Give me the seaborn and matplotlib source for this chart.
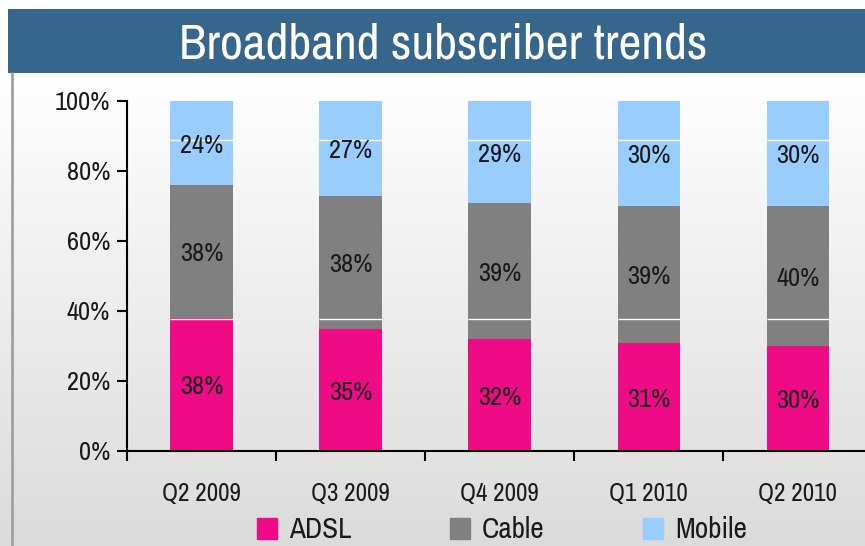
import matplotlib
matplotlib.use('Agg')
import matplotlib.pyplot as plt
import matplotlib.patches as mpatches
from matplotlib.lines import Line2D
import seaborn as sns
import numpy as np
import pandas as pd

# ---- data ----
quarters = ['Q2 2009', 'Q3 2009', 'Q4 2009', 'Q1 2010', 'Q2 2010']
adsl = [38, 35, 32, 31, 30]
cable = [38, 38, 39, 39, 40]
mobile = [24, 27, 29, 30, 30]
series = ['ADSL', 'Cable', 'Mobile']
COLORS = {'ADSL': '#EF0A86', 'Cable': '#808080', 'Mobile': '#99CCFF'}

sns.set_theme(style='white')
plt.rcParams['font.family'] = ['Archivo Narrow', 'Liberation Sans', 'DejaVu Sans']

df = pd.DataFrame({'quarter': quarters, 'ADSL': adsl, 'Cable': cable, 'Mobile': mobile})
df['top_adsl'] = df['ADSL']
df['top_cable'] = df['ADSL'] + df['Cable']
df['top_mobile'] = df['top_cable'] + df['Mobile']

fig = plt.figure(figsize=(8.65, 5.46), dpi=100)
fig.patch.set_facecolor('white')

# gradient background
bg = fig.add_axes([0, 0, 1, 1 - 73 / 546])
grad = np.linspace(1.0, 0.86, 256).reshape(-1, 1)
bg.imshow(np.dstack([grad, grad, grad]), aspect='auto', extent=[0, 1, 0, 1])
bg.axis('off')
fig.add_artist(Line2D([12 / 865, 12 / 865], [0, 1 - 73 / 546], color='#A0A0A0', lw=2,
                      transform=fig.transFigure))

# title banner
fig.add_artist(mpatches.Rectangle((8 / 865, 1 - 73 / 546), 1, 64 / 546, transform=fig.transFigure,
                                  facecolor='#36668C', edgecolor='none'))
fig.text(0.512, 1 - 45 / 546, 'Broadband subscriber trends', ha='center', va='center',
         color='white', fontsize=36)

ax = fig.add_axes([127 / 865, 1 - 451 / 546, 1 - 127 / 865, 350 / 546])
ax.patch.set_alpha(0)

bar_w = 0.42
for col, name in [('top_mobile', 'Mobile'), ('top_cable', 'Cable'), ('top_adsl', 'ADSL')]:
    sns.barplot(data=df, x='quarter', y=col, color=COLORS[name], width=bar_w,
                saturation=1, ax=ax, edgecolor='none', linewidth=0)

# thin white lines across the bars
pos = np.arange(len(quarters))
for yv in [37.7, 89]:
    ax.hlines(np.full(len(pos), yv), pos - bar_w / 2, pos + bar_w / 2, color='white', lw=1, zorder=3)

# data labels
bottoms = {'ADSL': [0] * 5, 'Cable': adsl, 'Mobile': df['top_cable'].tolist()}
values = {'ADSL': adsl, 'Cable': cable, 'Mobile': mobile}
for name in series:
    for i, (b, v) in enumerate(zip(bottoms[name], values[name])):
        ax.text(i, b + v / 2 - 0.7, f'{v}%', ha='center', va='center', fontsize=19,
                color='#1A1A1A', zorder=4)

ax.set_xlim(-0.5, 4.45)
ax.set_ylim(0, 100)
ax.set_yticks(range(0, 101, 20))
ax.set_yticklabels([f'{v}%' for v in range(0, 101, 20)], fontsize=19, color='#1A1A1A')
ax.set_xticks(range(5))
ax.set_xticklabels(quarters, fontsize=18, color='#1A1A1A')
ax.set_xticks(np.arange(-0.5, 4.5, 1), minor=True)
ax.tick_params(axis='x', which='major', bottom=False, length=0, pad=22)
ax.tick_params(axis='x', which='minor', bottom=True, length=7, width=1.5, direction='out', color='black')
ax.tick_params(axis='y', left=True, length=7, width=1.5, direction='out', color='black', pad=5)
ax.set_xlabel('')
ax.set_ylabel('')
for s in ['top', 'right']:
    ax.spines[s].set_visible(False)
for s in ['left', 'bottom']:
    ax.spines[s].set_color('black')
    ax.spines[s].set_linewidth(1.5)

handles = [mpatches.Patch(color=COLORS[s], label=s) for s in series]
fig.legend(handles=handles, loc='center', bbox_to_anchor=(502 / 865, 1 - 530 / 546), ncol=3,
           frameon=False, fontsize=21, handlelength=0.68, handleheight=0.7, handletextpad=0.4,
           columnspacing=3.4, labelcolor='#1A1A1A')

fig.savefig('out.png', dpi=100, facecolor='white')
